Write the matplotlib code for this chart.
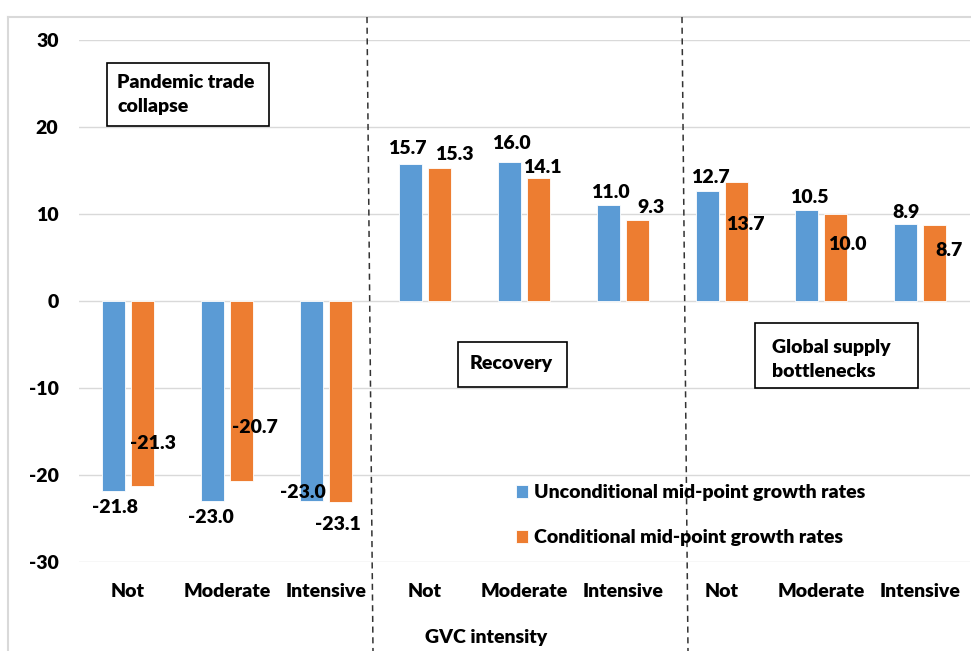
import matplotlib
matplotlib.use("Agg")
import matplotlib.pyplot as plt
from matplotlib.patches import Rectangle
from matplotlib.lines import Line2D
import numpy as np

# ---- data ----
categories = ["Not", "Moderate", "Intensive"] * 3
unconditional = [-21.8, -23.0, -23.0, 15.7, 16.0, 11.0, 12.7, 10.5, 8.9]
conditional = [-21.3, -20.7, -23.1, 15.3, 14.1, 9.3, 13.7, 10.0, 8.7]
series_names = ["Unconditional mid-point growth rates",
                "Conditional mid-point growth rates"]
phase_titles = ["Pandemic trade\ncollapse", "Recovery", "Global supply\nbottlenecks"]
y_ticks = [-30, -20, -10, 0, 10, 20, 30]
x_title = "GVC intensity"

# label offsets (pixels: dx right, dy down) relative to bar end
unc_label_off = [(2, 17), (-1, 16), (-8, -9), (-3, -16), (2, -18),
                 (2, -13), (3, -13), (3, -12), (1, -11)]
con_label_off = [(10, -43), (13, -54), (-3, 23), (15, -13), (4, -11),
                 (13, -13), (9, 43), (12, 31), (14, 25)]

BLUE = "#5B9BD5"
ORANGE = "#ED7D31"
GRID = "#D9D9D9"
FONT = "Lato"
WEIGHT = "heavy"
FS = 14

W, H = 971, 651
fig = plt.figure(figsize=(W / 100, H / 100), dpi=100)
plt.rcParams["font.family"] = [FONT, "DejaVu Sans"]
plt.rcParams["font.weight"] = WEIGHT


def fx(px):
    return px / W


def fy(py):
    return 1 - py / H


ax = fig.add_axes([fx(78.5), fy(562), fx(891), 522 / H])

x = np.arange(len(categories))
off, bw = 0.148, 0.23
b1 = ax.bar(x - off, unconditional, bw, color=BLUE, edgecolor="white",
            linewidth=0.6, label=series_names[0], zorder=3)
b2 = ax.bar(x + off, conditional, bw, color=ORANGE, edgecolor="white",
            linewidth=0.6, label=series_names[1], zorder=3)

for xs, vals, offs in ((x - off, unconditional, unc_label_off),
                       (x + off, conditional, con_label_off)):
    for xi, v, (dx, dy) in zip(xs, vals, offs):
        ax.annotate(f"{v:.1f}", xy=(xi, v), xytext=(dx * 0.72, -dy * 0.72),
                    textcoords="offset points", ha="center", va="center",
                    fontsize=FS, fontweight=WEIGHT, color="black", zorder=5)

ax.set_xlim(-0.5, len(categories) - 0.5)
ax.set_ylim(-30, 30)
ax.set_yticks(y_ticks)
ax.set_yticklabels([str(t) for t in y_ticks])
ax.set_xticks(x)
ax.set_xticklabels(categories)
ax.tick_params(axis="y", length=0, pad=14.4, labelsize=FS)
ax.tick_params(axis="x", length=0, pad=15, labelsize=FS)
for lab in ax.get_xticklabels() + ax.get_yticklabels():
    lab.set_fontweight(WEIGHT)
ax.grid(axis="y", color=GRID, linewidth=1.0, zorder=0)
ax.set_axisbelow(True)
for s in ax.spines.values():
    s.set_visible(False)

# axis title
fig.text(fx(486), fy(637), x_title, ha="center", va="center",
         fontsize=FS, fontweight=WEIGHT)

# outer chart frame
fig.add_artist(Line2D([fx(8), fx(8)], [fy(17), fy(H + 5)], color=GRID, lw=1.5))
fig.add_artist(Line2D([fx(8), fx(W + 5)], [fy(17), fy(17)], color=GRID, lw=1.5))

# phase separators
for (xt, xb) in ((367, 373), (682, 688)):
    fig.add_artist(Line2D([fx(xt), fx(xb)], [fy(17), fy(H)], color="#333333",
                          lw=1.1, linestyle=(0, (4, 3))))

# phase boxes
def box(x0, y0, x1, y1):
    fig.add_artist(Rectangle((fx(x0), fy(y1)), fx(x1 - x0), (y1 - y0) / H,
                             fill=True, facecolor="white", edgecolor="black",
                             lw=1.2, zorder=6))

box(107, 63, 269, 126)
fig.text(fx(117), fy(94.5), phase_titles[0], ha="left", va="center",
         fontsize=FS, fontweight=WEIGHT, linespacing=1.55, zorder=7)
box(458, 342, 567, 387)
fig.text(fx(511), fy(364), phase_titles[1], ha="center", va="center",
         fontsize=FS, fontweight=WEIGHT, zorder=7)
box(755, 323, 918, 388)
fig.text(fx(772), fy(359.5), phase_titles[2], ha="left", va="center",
         fontsize=FS, fontweight=WEIGHT, linespacing=1.55, zorder=7)

# legend
leg = fig.legend(handles=[b1, b2], loc="upper left",
                 bbox_to_anchor=(fx(516), fy(484)), frameon=False,
                 handlelength=0.6, handleheight=0.65,
                 handletextpad=0.35, labelspacing=1.45, borderpad=0,
                 borderaxespad=0, prop={"weight": WEIGHT, "size": FS})

fig.savefig("out.png", dpi=100)
